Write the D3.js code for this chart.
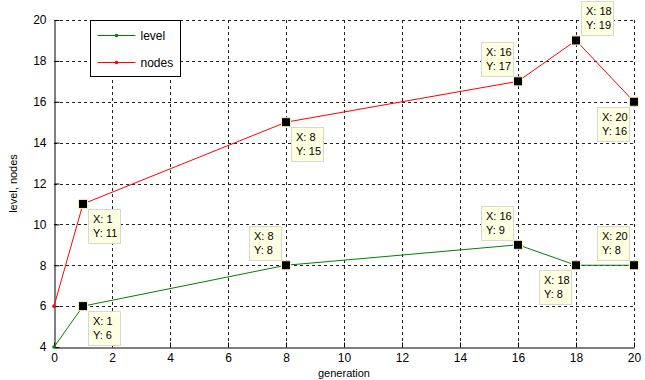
<!DOCTYPE html>
<html>
<head>
<meta charset="utf-8">
<script src="https://cdn.jsdelivr.net/npm/d3@7"></script>
<style>
body { margin: 0; background: #fff; }
svg { font-family: "Liberation Sans", Arial, sans-serif; }
</style>
</head>
<body>
<svg id="chart" width="645" height="380"></svg>
<script>
// data
var generation = [0, 1, 8, 16, 18, 20];
var level = [4, 6, 8, 9, 8, 8];
var nodes = [6, 11, 15, 17, 19, 16];
var xTicks = [0, 2, 4, 6, 8, 10, 12, 14, 16, 18, 20];
var yTicks = [4, 6, 8, 10, 12, 14, 16, 18, 20];
var seriesNames = ['level', 'nodes'];
var seriesColors = ['#008000', '#ff0000'];

// data tips: [series index, point index, placement]
var tips = [
	[0, 1, 'br'], [0, 2, 'tl'], [0, 3, 'tl'], [0, 4, 'bl'], [0, 5, 'tl'],
	[1, 1, 'br'], [1, 2, 'br'], [1, 3, 'tl'], [1, 4, 'tr'], [1, 5, 'bl']
];

var svg = d3.select('#chart');
var margin = {left: 54, right: 11, top: 20, bottom: 33};
var width = 645, height = 380;

var x = d3.scaleLinear().domain([0, 20]).range([margin.left, width - margin.right]);
var y = d3.scaleLinear().domain([4, 20]).range([height - margin.bottom, margin.top]);

// grid
var grid = svg.append('g').attr('class', 'grid')
	.attr('stroke', '#222').attr('stroke-dasharray', '3,3').attr('stroke-width', 1);
xTicks.slice(1).forEach(function (t) {
	grid.append('line')
		.attr('x1', Math.round(x(t)) + 0.5).attr('x2', Math.round(x(t)) + 0.5)
		.attr('y1', y(4)).attr('y2', y(20));
});
yTicks.slice(1).forEach(function (t) {
	grid.append('line')
		.attr('y1', Math.round(y(t)) + 0.5).attr('y2', Math.round(y(t)) + 0.5)
		.attr('x1', x(0)).attr('x2', x(20));
});

// axes (ticks point inward like matlab)
var xAxis = svg.append('g')
	.attr('transform', 'translate(0,' + (Math.round(y(4)) + 0.5) + ')')
	.call(d3.axisBottom(x).tickValues(xTicks).tickSizeInner(-5).tickSizeOuter(0).tickPadding(8));
var yAxis = svg.append('g')
	.attr('transform', 'translate(' + (Math.round(x(0)) + 0.5) + ',0)')
	.call(d3.axisLeft(y).tickValues(yTicks).tickSizeInner(-5).tickSizeOuter(0).tickPadding(8));
[xAxis, yAxis].forEach(function (a) {
	a.selectAll('path, line').attr('stroke', '#000');
	a.selectAll('text').attr('fill', '#000').style('font-size', '12px')
		.style('font-family', '"Liberation Sans", Arial, sans-serif');
});
xAxis.selectAll('text').attr('dy', '0.55em');

svg.append('text')
	.attr('x', (x(0) + x(20)) / 2).attr('y', 377)
	.attr('text-anchor', 'middle').style('font-size', '11px')
	.text('generation');
svg.append('text')
	.attr('transform', 'translate(17,' + ((y(4) + y(20)) / 2) + ') rotate(-90)')
	.attr('text-anchor', 'middle').style('font-size', '11px')
	.text('level, nodes');

// lines
var allSeries = [level, nodes];
var line = d3.line()
	.x(function (d, i) { return x(generation[i]); })
	.y(function (d) { return y(d); });
allSeries.forEach(function (s, k) {
	svg.append('path')
		.datum(s)
		.attr('d', line)
		.attr('fill', 'none')
		.attr('stroke', seriesColors[k])
		.attr('stroke-width', 1);
	svg.append('g').selectAll('circle')
		.data(s).enter().append('circle')
		.attr('cx', function (d, i) { return x(generation[i]); })
		.attr('cy', function (d) { return y(d); })
		.attr('r', 1.8)
		.attr('fill', seriesColors[k]);
});

// data tips
var tipW = 32, tipH = 34, gap = 5;
var tipG = svg.append('g').attr('class', 'tips');
tips.forEach(function (t) {
	var px = x(generation[t[1]]), py = y(allSeries[t[0]][t[1]]);
	var bx = t[2].charAt(1) === 'r' ? px + gap : px - gap - tipW;
	var by = t[2].charAt(0) === 'b' ? py + gap : py - gap - tipH;
	var g = tipG.append('g');
	g.append('rect')
		.attr('x', Math.round(bx) + 0.5).attr('y', Math.round(by) + 0.5)
		.attr('width', tipW).attr('height', tipH)
		.attr('fill', '#ffffe1').attr('stroke', '#d8d8cc');
	g.append('text').attr('x', Math.round(bx) + 5).attr('y', Math.round(by) + 14)
		.style('font-size', '11px').text('X: ' + generation[t[1]]);
	g.append('text').attr('x', Math.round(bx) + 5).attr('y', Math.round(by) + 28)
		.style('font-size', '11px').text('Y: ' + allSeries[t[0]][t[1]]);
	g.append('rect')
		.attr('x', px - 4.5).attr('y', py - 4.5)
		.attr('width', 9).attr('height', 9)
		.attr('fill', '#000').attr('stroke', '#f4f0c0').attr('stroke-width', 1);
});

// legend
var lg = svg.append('g').attr('transform', 'translate(90.5,20.5)');
lg.append('rect').attr('width', 90).attr('height', 56)
	.attr('fill', '#fff').attr('stroke', '#000');
seriesNames.forEach(function (name, k) {
	var ly = 15 + k * 27;
	lg.append('line').attr('x1', 7).attr('x2', 45).attr('y1', ly).attr('y2', ly)
		.attr('stroke', seriesColors[k]);
	lg.append('circle').attr('cx', 26).attr('cy', ly).attr('r', 1.8).attr('fill', seriesColors[k]);
	lg.append('text').attr('x', 50).attr('y', ly + 4)
		.style('font-size', '12px').text(name);
});
</script>
</body>
</html>
